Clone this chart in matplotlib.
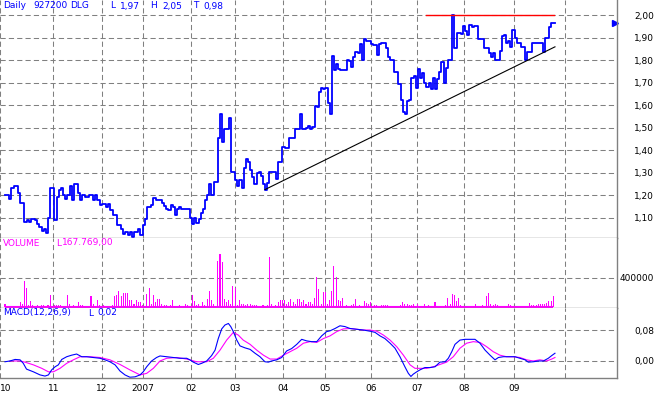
"""
Daily chart of 927200 DLG: price (step line), volume bars and MACD(12,26,9).
Writes out.png (658x396).
"""

import matplotlib
matplotlib.use("Agg")
import matplotlib.pyplot as plt
import numpy as np

# ────────────────────────── Data ────────────────────────── #
# daily closes, one value per trading day (Oct 2006 .. Sep 2007)
price = [
    1.20, 1.20, 1.185, 1.23, 1.24, 1.24, 1.21, 1.165, 1.165, 1.08,
    1.09, 1.08, 1.095, 1.095, 1.09, 1.074, 1.059, 1.04, 1.052, 1.03,
    1.10, 1.23, 1.23, 1.09, 1.193, 1.222, 1.23, 1.20, 1.185, 1.20,
    1.24, 1.18, 1.25, 1.25, 1.21, 1.178, 1.20, 1.193, 1.193, 1.20,
    1.20, 1.178, 1.20, 1.178, 1.156, 1.163, 1.163, 1.148, 1.16, 1.136,
    1.111, 1.111, 1.067, 1.067, 1.052, 1.027, 1.036, 1.022, 1.036, 1.015,
    1.036, 1.036, 1.052, 1.022, 1.067,
    1.096, 1.148, 1.148, 1.158, 1.188, 1.18, 1.18, 1.178, 1.166, 1.151,
    1.141, 1.133, 1.156, 1.148, 1.111, 1.141, 1.148, 1.141, 1.141, 1.141,
    1.141, 1.10, 1.071, 1.10, 1.078, 1.096, 1.119, 1.141, 1.178, 1.20,
    1.252, 1.20, 1.259, 1.259, 1.452, 1.56, 1.437, 1.492, 1.492, 1.541,
    1.304, 1.304, 1.267, 1.24, 1.267, 1.23, 1.319, 1.359, 1.348, 1.311,
    1.279, 1.252, 1.30, 1.304, 1.285, 1.252, 1.225, 1.255, 1.304, 1.304,
    1.304, 1.274, 1.348, 1.348, 1.412,
    1.41, 1.41, 1.456, 1.456, 1.456, 1.496, 1.496, 1.559, 1.496, 1.496,
    1.50, 1.508, 1.494, 1.505, 1.596, 1.59, 1.659, 1.677, 1.67, 1.677,
    1.608, 1.559, 1.819, 1.756, 1.781, 1.759, 1.756, 1.756, 1.756, 1.80,
    1.794, 1.77, 1.812, 1.837, 1.83, 1.871, 1.80, 1.892, 1.886, 1.886,
    1.871, 1.867, 1.867, 1.822, 1.871, 1.878, 1.878, 1.852, 1.812, 1.80,
    1.80, 1.749, 1.749, 1.692, 1.622, 1.57, 1.559, 1.619, 1.622, 1.719,
    1.73, 1.677,
    1.759, 1.719, 1.744, 1.70, 1.681, 1.70, 1.671, 1.719, 1.671, 1.714,
    1.748, 1.79, 1.70, 1.763, 1.80, 1.80, 2.00, 1.852, 1.919, 1.919,
    1.916, 1.951, 1.93, 1.911, 1.956, 1.945, 1.951, 1.951, 1.896, 1.896,
    1.896, 1.852, 1.852, 1.83, 1.815, 1.83, 1.80, 1.80, 1.841, 1.907,
    1.911, 1.877, 1.885, 1.857, 1.933, 1.897, 1.874, 1.874, 1.859, 1.859,
    1.80, 1.837, 1.837, 1.878, 1.878, 1.878, 1.878, 1.878, 1.837, 1.899,
    1.899, 1.948, 1.966, 1.966,
]

# daily volume in thousands of shares
volume_k = [
    37, 14, 14, 14, 14, 14, 14, 69, 46, 359,
    262, 23, 78, 23, 14, 23, 14, 32, 23, 14,
    32, 161, 14, 23, 23, 32, 32, 14, 14, 161,
    46, 14, 23, 14, 69, 32, 23, 14, 14, 14,
    147, 46, 14, 92, 23, 14, 23, 14, 14, 14,
    32, 147, 161, 216, 147, 198, 198, 198, 92, 92,
    46, 92, 69, 69, 23, 14, 184, 262, 46, 170,
    69, 106, 115, 46, 32, 23, 14, 23, 92, 14,
    14, 23, 14, 14, 46, 23, 14, 170, 78, 23,
    46, 14, 69, 23, 115, 216, 92, 46, 14, 630,
    727, 621, 115, 69, 92, 46, 285, 262, 23, 92,
    46, 46, 23, 46, 46, 23, 23, 23, 14, 14,
    23, 14, 32, 690, 46, 14, 23, 69, 92, 92,
    92, 46, 69, 106, 69, 46, 106, 115, 69, 92,
    46, 69, 69, 46, 124, 414, 244, 37, 207, 207,
    46, 94, 221, 565, 409, 94, 80, 118, 14, 24,
    14, 24, 38, 108, 14, 33, 14, 80, 56, 47,
    70, 14, 24, 24, 14, 24, 24, 24, 24, 14,
    14, 14, 14, 14, 24, 70, 47, 47, 24, 33,
    47, 14, 38, 14, 14, 38, 14, 24, 14, 14,
    70, 14, 14, 14, 14, 33, 127, 47, 179,
    165, 80, 127, 24, 14, 14, 14, 14, 14, 14,
    38, 14, 14, 24, 14, 151, 197, 38, 24, 47,
    24, 14, 14, 14, 14, 47, 33, 14, 14, 14,
    14, 14, 14, 14, 14, 56, 33, 24, 24, 38,
    47, 38, 47, 56, 80, 80, 151,
]

# MACD line (blue), sampled along the trading-day axis
macd_days = [
    0, 2.3, 4.7, 7, 8.5, 10, 13.2, 16.3, 18.6, 20.2,
    21.7, 23.3, 24.8, 26.4, 28.7, 31, 33.3, 35.7, 38, 41,
    44.2, 46.5, 48.8, 51.2, 53.5, 55.8, 58.1, 60.5, 62.8, 64.3,
    65.9, 68.2, 70.5, 72.1, 75.2, 78.3, 81.4, 84.5, 86, 87.6,
    89.9, 91.5, 93.8, 96.1, 97.7, 99.2, 100.8, 102.3, 103.9, 105,
    106.2, 107.8, 109.3, 111.6, 114, 116.3, 118.6, 120.9, 122.5, 124,
    126.4, 128.7, 131, 133.3, 135.7, 138, 140.3, 142.6, 145, 147.3,
    149.6, 151.2, 153.5, 155.8, 158.1, 160.5, 163.6, 166.7, 169.8, 172.1,
    174.4, 176.7, 179.1, 181.4, 183.7, 186, 187.6, 188.8, 189.9, 191.5,
    193, 195.3, 197.7, 200, 202.3, 204.7, 206.2, 207.8, 209.3, 211.6,
    214, 216.3, 218.6, 220.9, 223.3, 225.6, 227.9, 229.5, 231.8, 234.9,
    237.2, 239.5, 241.9, 243.4, 245.7, 248, 250.4, 252.7, 254.3, 255.8,
]
macd_vals = [
    -0.002, 0, 0.004, 0.003, -0.006, -0.021, -0.028, -0.036, -0.039, -0.036,
    -0.023, -0.015, -0.010, 0.004, 0.011, 0.015, 0.018, 0.011, 0.011, 0.009,
    0.007, 0.003, -0.002, -0.010, -0.026, -0.036, -0.042, -0.041, -0.036, -0.028,
    -0.015, 0.000, 0.009, 0.013, 0.011, 0.009, 0.007, 0.007, 0.003, -0.003,
    -0.009, -0.006, 0.000, 0.014, 0.028, 0.058, 0.083, 0.093, 0.097, 0.089,
    0.076, 0.054, 0.039, 0.034, 0.030, 0.020, 0.011, -0.002, -0.003, 0.000,
    0.003, 0.009, 0.026, 0.032, 0.043, 0.056, 0.052, 0.050, 0.050, 0.065,
    0.076, 0.078, 0.084, 0.091, 0.089, 0.084, 0.082, 0.080, 0.077, 0.074,
    0.065, 0.058, 0.046, 0.033, 0.011, -0.015, -0.032, -0.040, -0.034, -0.028,
    -0.023, -0.017, -0.017, -0.015, -0.003, -0.002, 0.007, 0.024, 0.043, 0.054,
    0.056, 0.056, 0.056, 0.046, 0.028, 0.015, 0.003, 0.009, 0.011, 0.011,
    0.011, 0.007, 0.003, -0.003, -0.002, 0.000, 0.000, 0.007, 0.014, 0.020,
]

# signal line (magenta)
signal_days = [
    2.3, 7, 9.3, 13.2, 17.1, 20.2, 22.5, 25.6, 28.7, 31.8,
    34.9, 39.5, 44.2, 48.8, 53.5, 58.1, 62.8, 65.9, 69, 72.1,
    75.2, 79.8, 84.5, 89.1, 93.8, 96.9, 100, 103.1, 106.2, 108.5,
    110.8, 114, 117.1, 120.2, 123.3, 126.4, 129.5, 132.6, 135.7, 138.8,
    141.9, 145, 148.1, 151.2, 154.3, 157.4, 160.5, 163.6, 166.7, 169.8,
    172.9, 176, 179.1, 182.2, 185.3, 188.4, 190.7, 193, 196.1, 199.2,
    202.3, 205.4, 208.5, 211.6, 214.7, 217.8, 220.9, 224, 227.1, 230.2,
    233.3, 236.4, 239.5, 242.6, 245.7, 248.8, 251.9, 254.3, 255.8,
]
signal_vals = [
    0.000, 0.000, -0.003, -0.010, -0.019, -0.028, -0.028, -0.019, -0.006, 0.003,
    0.011, 0.011, 0.009, 0.003, -0.009, -0.023, -0.036, -0.032, -0.019, 0.000,
    0.007, 0.009, 0.005, -0.002, -0.002, 0.007, 0.028, 0.054, 0.074, 0.067,
    0.054, 0.043, 0.028, 0.015, 0.005, 0.005, 0.015, 0.024, 0.033, 0.046,
    0.050, 0.048, 0.058, 0.065, 0.076, 0.083, 0.084, 0.082, 0.080, 0.080,
    0.077, 0.067, 0.054, 0.037, 0.015, -0.010, -0.019, -0.019, -0.019, -0.015,
    -0.009, -0.003, 0.011, 0.033, 0.046, 0.050, 0.048, 0.037, 0.024, 0.015,
    0.011, 0.011, 0.009, 0.003, 0.000, 0.003, 0.000, 0.005, 0.009,
]

# drawn-in lines: support trend and resistance at 2,00
trend_days = [120.9, 255.8]
trend_vals = [1.225, 1.859]
resist_days = [195.8, 255.3]
resist_vals = [2.00, 2.00]

# month starts on the trading-day axis
month_pos = [-2.2, 22.5, 45.0, 64.0, 86.4, 107.0, 129.2, 148.8, 170.1,
             191.5, 213.6, 236.9, 260.4]
month_labels = ["10", "11", "12", "2007", "02", "03", "04", "05", "06",
                "07", "08", "09", ""]

price_ticks = [1.1, 1.2, 1.3, 1.4, 1.5, 1.6, 1.7, 1.8, 1.9, 2.0]
volume_ticks = [400000]
macd_ticks = [0.0, 0.08]

header_price = [("Daily", 3), ("927200", 33), ("DLG", 70), ("L", 110),
                ("1,97", 120), ("H", 150), ("2,05", 162), ("T", 193), ("0,98", 203)]
header_volume = [("VOLUME", 3), ("L", 56), ("167.769,00", 62)]
header_macd = [("MACD(12,26,9)", 3), ("L", 88), ("0,02", 97)]

# ────────────────────────── Style ────────────────────────── #
BLUE = "#0000ff"
MAGENTA = "#ff00ff"
GRID = "#808080"
FS = 6.5
W, H = 658, 396
RIGHT = 617.3  # pixel x of the right frame
plt.rcParams["font.family"] = ["DejaVu Sans"]
plt.rcParams["font.size"] = FS


def comma(v, fmt="{:.2f}"):
    return fmt.format(v).replace(".", ",")


def panel(top, bottom):
    ax = fig.add_axes([0, 1 - bottom / H, RIGHT / W, (bottom - top) / H])
    for side in ("top", "left"):
        ax.spines[side].set_visible(False)
    for side in ("bottom", "right"):
        ax.spines[side].set_color(GRID)
        ax.spines[side].set_linewidth(1.0)
    ax.set_xlim(-5 / 2.15, (RIGHT - 5) / 2.15)
    ax.set_xticks(month_pos)
    ax.set_xticklabels([])
    ax.xaxis.get_gridlines()[0].set_visible(False)
    ax.yaxis.tick_right()
    ax.tick_params(length=0, pad=26.6, labelsize=FS)
    ax.grid(True, color=GRID, linestyle=(0, (5, 3)), linewidth=0.75)
    ax.set_axisbelow(True)
    return ax


def right_labels(ax, ticks, labels):
    ax.set_yticks(ticks)
    ax.set_yticklabels(labels)
    for t in ax.get_yticklabels():
        t.set_horizontalalignment("right")


def header(items, y, color):
    for txt, x in items:
        fig.text(x / W, 1 - y / H, txt, color=color, fontsize=FS,
                 ha="left", va="center")


fig = plt.figure(figsize=(W / 100, H / 100), dpi=100)
fig.patch.set_facecolor("white")

days = np.arange(len(price) + 1)
price_ext = np.append(price, price[-1])

# ────────────────────────── Price ────────────────────────── #
ax1 = panel(0, 238)
ax1.set_ylim(1.01, 2.067)
ax1.step(days, price_ext, where="post", color=BLUE, lw=1.3)
ax1.plot(trend_days, trend_vals, color="black", lw=0.8)
ax1.plot(resist_days, resist_vals, color="#ff0000", lw=1.0)
ax1.plot([(RIGHT - 2.5 - 5) / 2.15], [price[-1]], marker=">", ms=4,
         color=BLUE, clip_on=False, lw=0)
right_labels(ax1, price_ticks, [comma(v) for v in price_ticks])
header(header_price, 6, BLUE)

# ────────────────────────── Volume ────────────────────────── #
ax2 = panel(238, 308)
vol = np.array(volume_k) * 1000
vdays = np.arange(len(vol))
ax2.set_ylim(-15000, 950000)
ax2.bar(vdays, vol, width=0.5, color=MAGENTA, linewidth=0)
ax2.hlines(0, vdays[0], vdays[-1], color=MAGENTA, lw=1.5)
right_labels(ax2, volume_ticks, [str(v) for v in volume_ticks])
header(header_volume, 243, MAGENTA)

# ────────────────────────── MACD ────────────────────────── #
ax3 = panel(308, 378)
ax3.set_ylim(-0.044, 0.137)
ax3.plot(signal_days, signal_vals, color=MAGENTA, lw=0.8)
ax3.plot(macd_days, macd_vals, color=BLUE, lw=0.8)
right_labels(ax3, macd_ticks, [comma(v) for v in macd_ticks])
ax3.set_xticklabels(month_labels)
ax3.get_xticklabels()[0].set_horizontalalignment("left")
ax3.tick_params(axis="x", pad=4.3)
header(header_macd, 313, BLUE)

fig.savefig("out.png", dpi=100)
